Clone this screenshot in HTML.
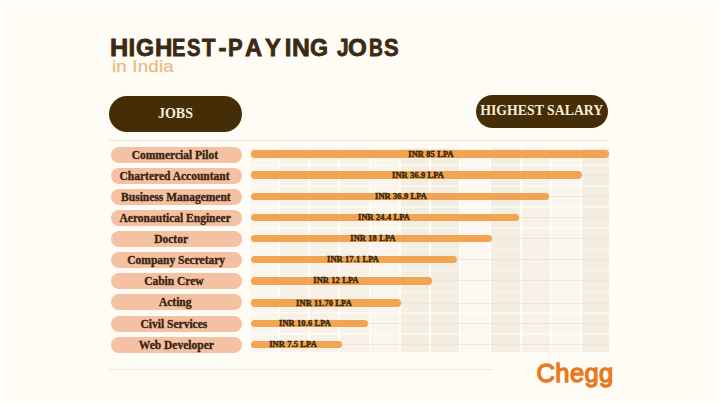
<!DOCTYPE html>
<html><head><meta charset="utf-8"><style>
html,body{margin:0;padding:0;}
body{width:720px;height:404px;background:#fffcf5;position:relative;overflow:hidden;font-family:"Liberation Sans",sans-serif;}
.title{position:absolute;left:0;top:34.2px;width:720px;height:30px;}
.title span{position:absolute;top:0;transform-origin:0 0;font-size:24px;font-weight:bold;color:#3a2a13;white-space:nowrap;-webkit-text-stroke:0.8px #3a2a13;}
.sub{position:absolute;left:111.5px;top:57px;font-size:16.5px;color:#eabb82;letter-spacing:0.2px;word-spacing:0px;white-space:nowrap;-webkit-text-stroke:0.25px #eabb82;transform:scaleX(1.13);transform-origin:0 0;}
.dpill{position:absolute;background:#452e07;color:#f6ecda;font-family:"Liberation Serif",serif;font-weight:bold;text-align:center;white-space:nowrap;}
.sep{position:absolute;height:1px;background:#ebe4d9;}
.pill{position:absolute;left:110.5px;width:131.5px;height:16px;border-radius:8px;background:#f4c2a2;}
.pill span{position:absolute;top:0;width:160px;line-height:17px;color:#3b2412;font-family:"Liberation Serif",serif;font-weight:bold;font-size:11.5px;text-align:center;white-space:nowrap;-webkit-text-stroke:0.35px #3b2412;}
.bar{position:absolute;left:251px;height:7.4px;margin-top:-0.2px;border-radius:3.7px;background:#f1a553;}
.bt{position:absolute;width:120px;text-align:center;font-family:"Liberation Serif",serif;font-weight:bold;font-size:7.6px;letter-spacing:0.1px;line-height:10px;color:#36260e;white-space:nowrap;-webkit-text-stroke:0.35px #36260e;transform:scaleX(1.11);transform-origin:50% 50%;}
.col{position:absolute;top:147.5px;height:204.5px;}
.wl{position:absolute;left:250px;width:359px;height:1.5px;background:rgba(255,253,247,0.6);}
.hl{position:absolute;left:250px;width:358.8px;height:1px;background:#f0e6d8;}
.chegg{position:absolute;left:536.5px;top:358.5px;font-size:25.5px;font-weight:normal;color:#e77a23;letter-spacing:0.4px;white-space:nowrap;-webkit-text-stroke:1.3px #e77a23;}
</style></head><body>
<div style="position:absolute;left:0;top:0;width:720px;height:404px;box-sizing:border-box;border:4px solid #fffef9;border-right-width:3px;"></div>
<div class="title"><span style="left:109.81px;transform:scaleX(1.053)">H</span><span style="left:128.47px;transform:scaleX(1.000)">I</span><span style="left:136.32px;transform:scaleX(0.965)">G</span><span style="left:154.75px;transform:scaleX(1.003)">H</span><span style="left:172.37px;transform:scaleX(0.839)">E</span><span style="left:187.38px;transform:scaleX(0.840)">S</span><span style="left:202.03px;transform:scaleX(0.920)">T</span><span style="left:218.45px;transform:scaleX(1.000)">-</span><span style="left:228.15px;transform:scaleX(0.913)">P</span><span style="left:245.47px;transform:scaleX(0.989)">A</span><span style="left:265.21px;transform:scaleX(0.986)">Y</span><span style="left:284.77px;transform:scaleX(1.000)">I</span><span style="left:291.78px;transform:scaleX(1.028)">N</span><span style="left:310.22px;transform:scaleX(0.965)">G</span><span style="left:337.04px;transform:scaleX(0.869)">J</span><span style="left:348.32px;transform:scaleX(1.009)">O</span><span style="left:369.09px;transform:scaleX(0.802)">B</span><span style="left:383.75px;transform:scaleX(0.914)">S</span></div>
<div class="sub">in India</div>
<div class="dpill" style="left:109px;top:96px;width:133px;height:36px;line-height:36px;font-size:14px;border-radius:18px;">JOBS</div>
<div class="dpill" style="left:475.5px;top:94.5px;width:132.5px;height:33.5px;line-height:32px;font-size:13.8px;border-radius:17px;">HIGHEST SALARY</div>
<div class="sep" style="left:109px;top:140px;width:499px;"></div>
<div class="col" style="left:250.0px;width:28.0px;background:#faf6ed"></div><div class="col" style="left:280.0px;width:28.2px;background:#f7f1e7"></div><div class="col" style="left:310.2px;width:28.2px;background:#f7f1e7"></div><div class="col" style="left:340.4px;width:28.2px;background:#f7f1e7"></div><div class="col" style="left:370.6px;width:28.2px;background:#faf6ed"></div><div class="col" style="left:400.8px;width:28.2px;background:#f4eee2"></div><div class="col" style="left:431.0px;width:28.2px;background:#f4eee2"></div><div class="col" style="left:461.2px;width:28.2px;background:#fcf8f1"></div><div class="col" style="left:491.4px;width:28.2px;background:#f4eee2"></div><div class="col" style="left:521.6px;width:28.2px;background:#f7f1e7"></div><div class="col" style="left:551.8px;width:28.2px;background:#faf6ed"></div><div class="col" style="left:582.0px;width:26.8px;background:#f4eee2"></div>
<div class="wl" style="top:164.00px"></div><div class="wl" style="top:185.15px"></div><div class="wl" style="top:206.30px"></div><div class="wl" style="top:227.45px"></div><div class="wl" style="top:248.60px"></div><div class="wl" style="top:269.75px"></div><div class="wl" style="top:291.90px"></div><div class="wl" style="top:312.05px"></div><div class="wl" style="top:333.20px"></div><div class="hl" style="top:153.50px"></div><div class="hl" style="top:174.65px"></div><div class="hl" style="top:195.80px"></div><div class="hl" style="top:216.95px"></div><div class="hl" style="top:238.10px"></div><div class="hl" style="top:259.25px"></div><div class="hl" style="top:280.40px"></div><div class="hl" style="top:302.55px"></div><div class="hl" style="top:322.70px"></div><div class="hl" style="top:343.85px"></div>
<div class="pill" style="top:146.60px"><span style="left:-15.6px">Commercial Pilot</span></div><div class="bar" style="top:150.50px;width:358px"></div><div class="bt" style="top:149.50px;left:370.9px">INR 85 LPA</div><div class="pill" style="top:167.72px"><span style="left:-16.0px">Chartered Accountant</span></div><div class="bar" style="top:171.65px;width:331px"></div><div class="bt" style="top:170.65px;left:357.7px">INR 36.9 LPA</div><div class="pill" style="top:188.84px"><span style="left:-14.6px">Business Management</span></div><div class="bar" style="top:192.80px;width:298px"></div><div class="bt" style="top:191.80px;left:340.8px">INR 36.9 LPA</div><div class="pill" style="top:209.96px"><span style="left:-15.3px">Aeronautical Engineer</span></div><div class="bar" style="top:213.95px;width:268px"></div><div class="bt" style="top:212.95px;left:323.7px">INR 24.4 LPA</div><div class="pill" style="top:231.08px"><span style="left:-19.4px">Doctor</span></div><div class="bar" style="top:235.10px;width:241px"></div><div class="bt" style="top:234.10px;left:313.0px">INR 18 LPA</div><div class="pill" style="top:252.20px"><span style="left:-14.3px">Company Secretary</span></div><div class="bar" style="top:256.25px;width:206px"></div><div class="bt" style="top:255.25px;left:293.2px">INR 17.1 LPA</div><div class="pill" style="top:273.32px"><span style="left:-16.6px">Cabin Crew</span></div><div class="bar" style="top:277.40px;width:181px"></div><div class="bt" style="top:276.40px;left:275.8px">INR 12 LPA</div><div class="pill" style="top:294.44px"><span style="left:-15.3px">Acting</span></div><div class="bar" style="top:299.55px;width:150px"></div><div class="bt" style="top:298.55px;left:263.8px">INR 11.70 LPA</div><div class="pill" style="top:315.56px"><span style="left:-16.6px">Civil Services</span></div><div class="bar" style="top:319.70px;width:117px"></div><div class="bt" style="top:318.70px;left:245.2px">INR 10.6 LPA</div><div class="pill" style="top:336.68px"><span style="left:-14.2px">Web Developer</span></div><div class="bar" style="top:340.85px;width:91px"></div><div class="bt" style="top:339.85px;left:233.0px">INR 7.5 LPA</div>
<div class="sep" style="left:109px;top:369px;width:384px;background:#efe9df;"></div>
<div class="chegg">Chegg</div>
</body></html>
